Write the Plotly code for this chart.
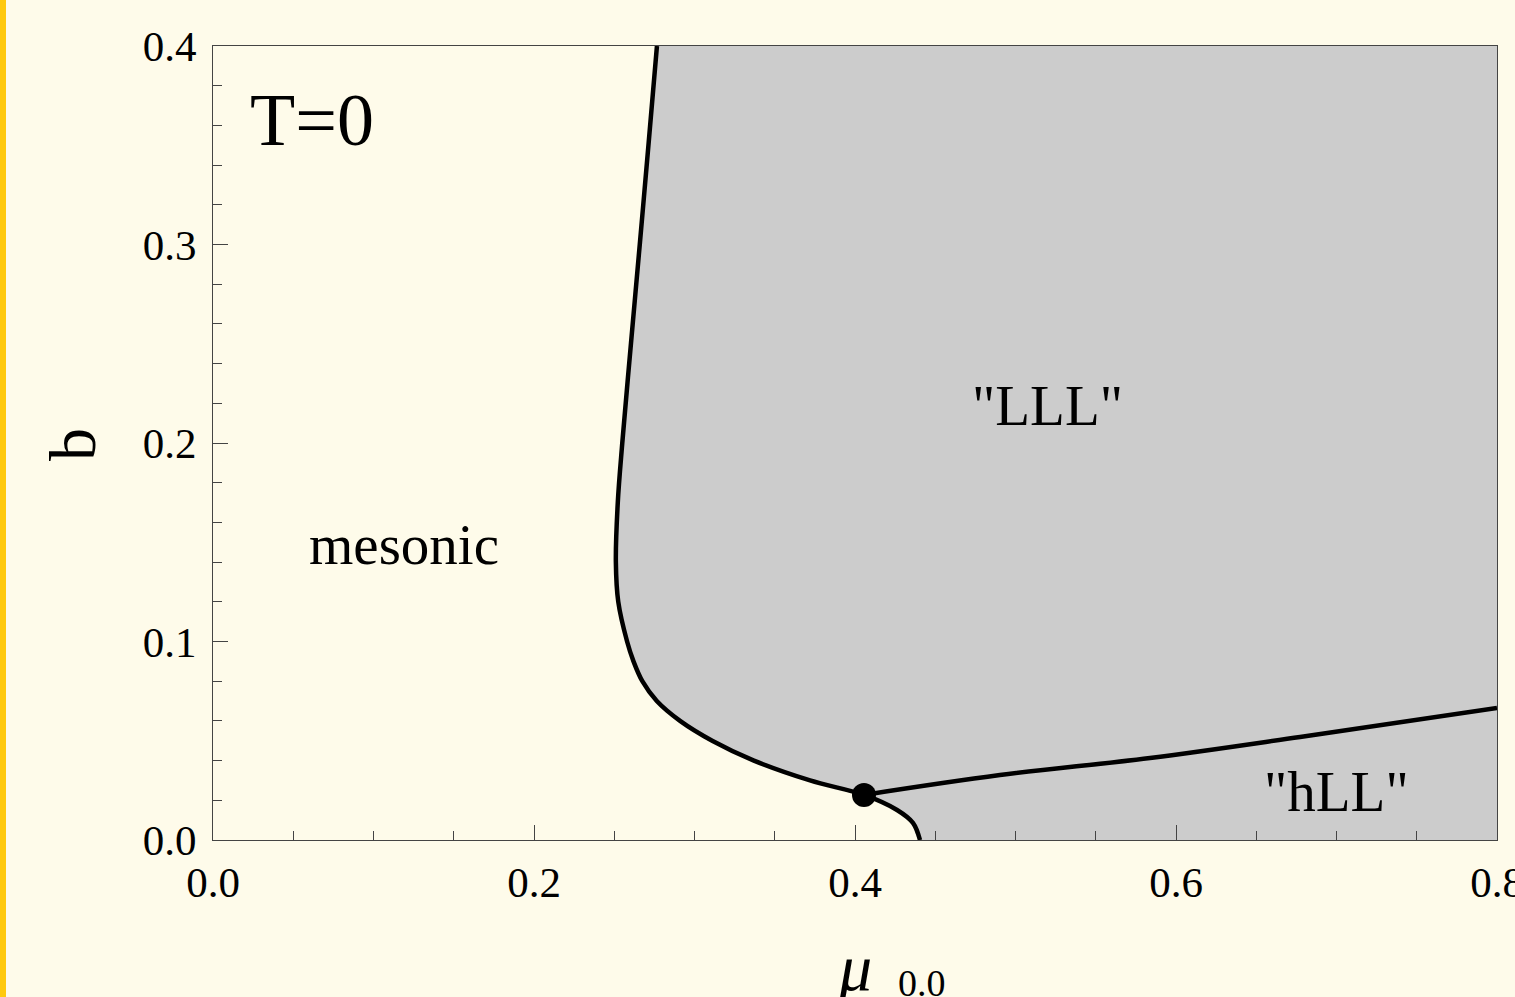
import plotly.graph_objects as go

# Phase boundary (mu, b), from top of plot down to the b=0 axis
boundary_mu = [0.2766, 0.2713, 0.2659, 0.2604, 0.2550, 0.2522, 0.2510, 0.2525, 0.2580,
               0.2620, 0.2675, 0.2765, 0.2910, 0.3110, 0.3370, 0.3720, 0.4056,
               0.4262, 0.4361, 0.4405]
boundary_b = [0.400, 0.350, 0.300, 0.250, 0.200, 0.170, 0.140, 0.120, 0.100,
              0.090, 0.080, 0.070, 0.060, 0.050, 0.040, 0.030, 0.0227,
              0.0151, 0.0086, 0.0]

# Line between "LLL" and "hLL"
upper_mu = [0.4056, 0.4903, 0.5838, 0.6773, 0.8000]
upper_b = [0.0227, 0.0327, 0.0413, 0.0519, 0.0665]

# Critical point
crit_mu = [0.4056]
crit_b = [0.0227]

x_ticks = [0.0, 0.2, 0.4, 0.6, 0.8]
x_ticklabels = ["0.0", "0.2", "0.4", "0.6", "0.8"]
y_ticks = [0.0, 0.1, 0.2, 0.3, 0.4]
y_ticklabels = ["0.0", "0.1", "0.2", "0.3", "0.4"]

BG = "#FEFBEA"
GREY = "#CCCCCC"
FONT = "Liberation Serif"

fig = go.Figure()

# grey region: right of boundary
fill_x = boundary_mu + [0.8, 0.8]
fill_y = boundary_b + [0.0, 0.4]
fig.add_trace(go.Scatter(x=fill_x, y=fill_y, fill="toself", fillcolor=GREY,
                         line=dict(width=0, shape="spline", smoothing=1.0), mode="lines",
                         hoverinfo="skip", showlegend=False))
fig.add_trace(go.Scatter(x=boundary_mu, y=boundary_b, mode="lines",
                         line=dict(color="black", width=4.5, shape="spline", smoothing=1.0),
                         showlegend=False))
fig.add_trace(go.Scatter(x=upper_mu, y=upper_b, mode="lines",
                         line=dict(color="black", width=4.5, shape="spline", smoothing=1.0),
                         showlegend=False))
fig.add_trace(go.Scatter(x=crit_mu, y=crit_b, mode="markers",
                         marker=dict(color="black", size=24), showlegend=False))

axis_common = dict(showgrid=False, zeroline=False, showline=True, linecolor="#444444",
                   linewidth=1, mirror=True, ticks="inside", tickcolor="#444444",
                   tickwidth=1, ticklen=15, ticklabeloverflow="allow", automargin=False,
                   tickfont=dict(family=FONT, size=43, color="black"))

fig.update_xaxes(range=[0, 0.8], tickvals=x_ticks, ticktext=x_ticklabels,
                 minor=dict(dtick=0.05, ticks="inside", ticklen=9, tickcolor="#444444", tickwidth=1),
                 ticklabelstandoff=4, **axis_common)
fig.update_yaxes(range=[0, 0.4], tickvals=y_ticks, ticktext=y_ticklabels,
                 minor=dict(dtick=0.02, ticks="inside", ticklen=9, tickcolor="#444444", tickwidth=1),
                 ticklabelstandoff=7, **axis_common)

ann = []
def txt(x, y, t, size, xref="x", yref="y", angle=0):
    ann.append(dict(x=x, y=y, xref=xref, yref=yref, text=t, showarrow=False,
                    font=dict(family=FONT, size=size, color="black"),
                    xanchor="center", yanchor="middle", textangle=angle))

txt(0.0617, 0.3625, "T=0", 74)
txt(0.119, 0.149, "mesonic", 57)
txt(0.5202, 0.219, '"LLL"', 57)
txt(0.7003, 0.0245, '"hLL"', 57)
# axis titles
txt(-0.109, 0.4975, "b", 66, xref="paper", yref="paper", angle=-90)
txt(0.5, -0.16, "<i>μ</i>", 66, xref="paper", yref="paper")
txt(0.552, -0.18, "0.0", 38, xref="paper", yref="paper")
fig.update_layout(annotations=ann)

# yellow strip at the left page edge
fig.add_shape(type="rect", xref="paper", yref="paper",
              x0=-213 / 1284, x1=(-213 + 6) / 1284, y0=-157 / 794, y1=(997 - 157) / 794,
              fillcolor="#FFC90E", line=dict(width=0), layer="above")

fig.update_layout(width=1515, height=997, paper_bgcolor=BG, plot_bgcolor=BG,
                  margin=dict(l=213, r=18, t=46, b=157, autoexpand=False), showlegend=False)

fig.write_html("out.html")
